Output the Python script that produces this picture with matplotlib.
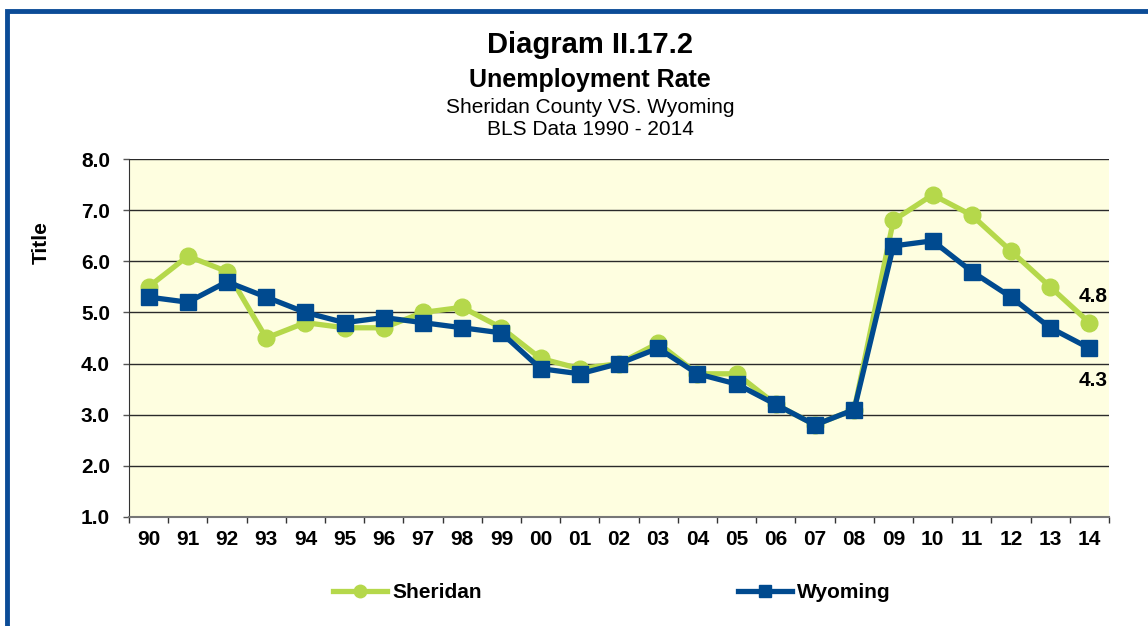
import numpy as np
import matplotlib.pyplot as plt
from matplotlib.patches import Rectangle

years = ['90', '91', '92', '93', '94', '95', '96', '97', '98', '99', '00', '01',
         '02', '03', '04', '05', '06', '07', '08', '09', '10', '11', '12', '13', '14']
sheridan = [5.5, 6.1, 5.8, 4.5, 4.8, 4.7, 4.7, 5.0, 5.1, 4.7, 4.1, 3.9,
            4.0, 4.4, 3.8, 3.8, 3.2, 2.8, 3.1, 6.8, 7.3, 6.9, 6.2, 5.5, 4.8]
wyoming = [5.3, 5.2, 5.6, 5.3, 5.0, 4.8, 4.9, 4.8, 4.7, 4.6, 3.9, 3.8,
           4.0, 4.3, 3.8, 3.6, 3.2, 2.8, 3.1, 6.3, 6.4, 5.8, 5.3, 4.7, 4.3]

green = '#B5D84B'
blue = '#004A8F'
fs = 15

plt.rcParams['font.family'] = ['Liberation Sans', 'DejaVu Sans']

fig = plt.figure(figsize=(11.48, 6.26), dpi=100)
ax = fig.add_axes([129/1148, 1 - 517/626, (1109-129)/1148, (517-159)/626])
ax.set_facecolor('#FEFEE0')

x = np.arange(len(years))
ax.plot(x, sheridan, color=green, lw=3.8, marker='o', ms=12, label='Sheridan', zorder=3)
ax.plot(x, wyoming, color=blue, lw=3.8, marker='s', ms=12, label='Wyoming', zorder=4)

# end-point labels
ax.annotate('%.1f' % sheridan[-1], (x[-1], sheridan[-1]), xytext=(3, 19),
            textcoords='offset points', ha='center', va='center',
            fontsize=fs, fontweight='bold')
ax.annotate('%.1f' % wyoming[-1], (x[-1], wyoming[-1]), xytext=(3, -23),
            textcoords='offset points', ha='center', va='center',
            fontsize=fs, fontweight='bold')

ax.set_xlim(-0.5, len(years) - 0.5)
ax.set_ylim(1, 8)
yt = np.arange(1, 8.5, 1)
ax.set_yticks(yt)
ax.set_yticklabels(['%.1f' % v for v in yt], fontsize=fs, fontweight='bold')
ax.set_xticks(x)
ax.set_xticklabels(years, fontsize=fs, fontweight='bold')
ax.set_xticks(np.arange(-0.5, len(years)), minor=True)
ax.tick_params(axis='x', which='major', length=0, pad=9.4)
ax.tick_params(axis='x', which='minor', length=4, width=1, color='#333333')
ax.tick_params(axis='y', length=4.3, width=1, color='#555555', pad=9.4)
ax.grid(axis='y', color='#2a2a2a', lw=1)
ax.set_axisbelow(True)
for s in ['top', 'right']:
    ax.spines[s].set_visible(False)
ax.spines['left'].set_color('#333333')
ax.spines['bottom'].set_color('#777777')
ax.spines['bottom'].set_linewidth(1.5)

fig.text(41/1148, 1 - 243/626, 'Title', rotation=90, ha='center', va='center',
         fontsize=fs, fontweight='bold')

cx = 590/1148
fig.text(cx, 1 - 53/626, 'Diagram II.17.2', ha='center', va='baseline',
         fontsize=21, fontweight='bold')
fig.text(cx, 1 - 87/626, 'Unemployment Rate', ha='center', va='baseline',
         fontsize=18, fontweight='bold')
fig.text(cx, 1 - 113/626, 'Sheridan County VS. Wyoming', ha='center', va='baseline',
         fontsize=15)
fig.text(cx, 1 - 135/626, 'BLS Data 1990 - 2014', ha='center', va='baseline',
         fontsize=15)

h, l = ax.get_legend_handles_labels()
fig.legend(h, l, loc='center left', bbox_to_anchor=(333/1148, 1 - 593/626), ncol=2,
           frameon=False, prop={'weight': 'bold', 'size': fs}, columnspacing=12.3,
           handlelength=2.6, handletextpad=0.24, markerscale=0.75,
           borderpad=0, borderaxespad=0)

fig.patches.append(Rectangle((7/1148, -0.1), 1.2, 1 - 11/626 + 0.1, transform=fig.transFigure,
                             fill=False, edgecolor='#0B4C97', lw=3.5, zorder=10))

fig.savefig('out.png', dpi=100)
